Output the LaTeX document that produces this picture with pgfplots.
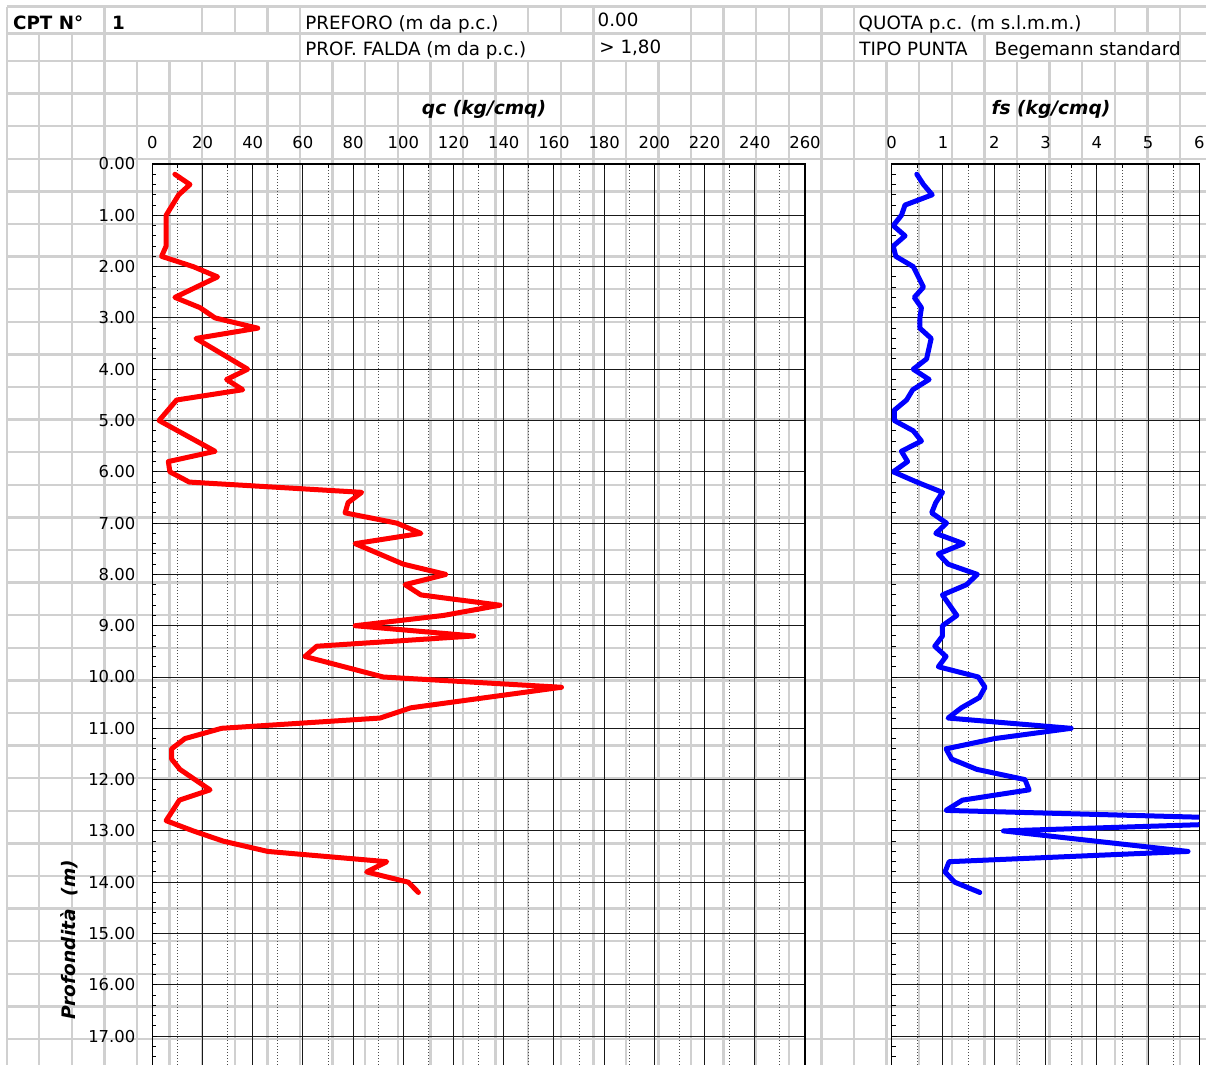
\documentclass[border=0pt]{standalone}
\usepackage{fontspec}
\setmainfont{DejaVu Sans}
\usepackage{pgfplots}
\pgfplotsset{compat=1.18}
\definecolor{xlgrid}{RGB}{208,208,208}
\newcommand\hdr{\fontsize{9.15}{11}\selectfont}
\newcommand\tck{\fontsize{8.2}{9.8}\selectfont}
\newcommand\ttl{\fontsize{9.3}{11}\selectfont\bfseries\itshape}

\pgfplotsset{
 cptaxis/.style={
  scale only axis, anchor=north west,
  height=461.7pt, ymin=0, ymax=18, y dir=reverse,
  axis line style={black, line width=0.7pt},
  ytick={0,1,...,18}, minor y tick num=4,
  ytick pos=left, xtick pos=right, xticklabel pos=right,
  tick align=inside, major tick length=2.5pt, minor tick length=2pt,
  tick style={black, line width=0.5pt},
  xmajorgrids=true, xminorgrids=true, ymajorgrids=true,
  major grid style={black!90, line width=0.5pt},
  minor grid style={black!70, line width=0.5pt, dash pattern=on 0.6pt off 0.9pt},
  tick label style={font=\tck, black},
  xticklabel style={anchor=base, yshift=8pt},
  scaled x ticks=false, scaled y ticks=false,
  /pgf/number format/assume math mode=true,
  clip=true,
 }
}

\pgfplotstableread{
d qc
0.2 9
0.4 15
0.6 10.5
0.8 8
1.0 5.5
1.2 5.5
1.4 5.5
1.6 5.5
1.8 3.7
2.0 16.3
2.2 26
2.6 9
2.8 19
3.0 25
3.2 42
3.4 17.4
4.0 38
4.2 29.6
4.4 36
4.6 9.7
5.0 2.7
5.6 25
5.8 6.4
6.0 7
6.2 14.7
6.4 83.4
6.6 78
6.8 76.8
7.0 97.4
7.2 107
7.4 80.8
7.8 100
8.0 117
8.2 100.7
8.4 107
8.6 138.5
8.8 116
9.0 80.8
9.2 128
9.4 65.5
9.6 60.8
10.0 92
10.2 163
10.6 103
10.8 90.7
11.0 27.6
11.2 13
11.4 7.7
11.6 7.7
11.8 11
12.2 23
12.4 10.8
12.8 5.5
13.0 16.3
13.2 28.3
13.4 46
13.6 93.4
13.8 85.4
14.0 102
14.2 106
}\qctable

\pgfplotstableread{
d fs
0.2 0.49
0.4 0.62
0.6 0.79
0.8 0.26
1.0 0.19
1.2 0.03
1.4 0.26
1.6 0.03
1.8 0.08
2.0 0.42
2.4 0.62
2.6 0.44
2.8 0.58
3.0 0.55
3.2 0.55
3.4 0.77
3.8 0.68
4.0 0.42
4.2 0.73
4.4 0.41
4.6 0.29
4.8 0.05
5.0 0.05
5.2 0.42
5.4 0.58
5.6 0.19
5.8 0.31
6.0 0.03
6.2 0.49
6.4 0.99
6.6 0.86
6.8 0.78
7.0 1.07
7.2 0.86
7.4 1.40
7.6 0.91
7.8 1.10
8.0 1.67
8.2 1.46
8.4 0.99
8.8 1.27
9.0 0.99
9.2 0.99
9.4 0.84
9.6 1.06
9.8 0.91
10.0 1.69
10.2 1.82
10.4 1.71
10.6 1.36
10.8 1.10
11.0 3.50
11.2 2.01
11.4 1.06
11.6 1.17
11.8 1.66
12.0 2.60
12.2 2.68
12.4 1.38
12.6 1.06
12.8 8.5
13.0 2.18
13.4 5.78
13.6 1.12
13.8 1.04
14.0 1.23
14.2 1.72
}\fstable

\begin{document}
\begin{tikzpicture}
% ---- spreadsheet cell grid (background) ----
\begin{scope}[x=0.5pt,y=-0.5pt]
 \begin{scope}[draw=xlgrid, line width=1.2pt]
  \foreach \yy in {6.7,33.5,61} \draw (6.7,\yy) -- (1206,\yy);
  \foreach \j in {1,...,31} \draw (6.7,{61+32.6*\j}) -- (1206,{61+32.6*\j});
  \foreach \k in {0,...,36} \draw ({6.7+32.59*\k},61) -- ({6.7+32.59*\k},1066);
  \foreach \k in {0,3,6,7,8,9,16,17,18,21,22,23,24,25,26,34,35,36}
     \draw ({6.7+32.59*\k},6.7) -- ({6.7+32.59*\k},33.5);
  \foreach \k in {0,1,2,3,9,18,21,22,23,24,25,26,30,36}
     \draw ({6.7+32.59*\k},33.5) -- ({6.7+32.59*\k},61);
 \end{scope}
 % header texts
 \node[anchor=base west, inner sep=0, font=\hdr\bfseries] at (12.7,29.3) {CPT N°};
 \node[anchor=base west, inner sep=0, font=\hdr\bfseries] at (111.7,29.3) {1};
 \node[anchor=base west, inner sep=0, font=\hdr] at (305,29.3) {PREFORO (m da p.c.)};
 \node[anchor=base west, inner sep=0, font=\hdr] at (597.3,26.5) {0.00};
 \node[anchor=base west, inner sep=0, font=\hdr] at (858.3,29.5) {QUOTA p.c. (m s.l.m.m.)};
 \node[anchor=base west, inner sep=0, font=\hdr] at (305,55.3) {PROF. FALDA (m da p.c.)};
 \node[anchor=base west, inner sep=0, font=\hdr] at (599,53.5) {> 1,80};
 \node[anchor=base west, inner sep=0, font=\hdr] at (859,55.8) {TIPO PUNTA};
 \node[anchor=base west, inner sep=0, font=\hdr] at (994.3,55.8) {Begemann standard};
 % axis titles
 \node[anchor=base, inner sep=0, font=\ttl] at (484,115) {qc (kg/cmq)};
 \node[anchor=base, inner sep=0, font=\ttl] at (1051,115) {fs (kg/cmq)};
 \node[rotate=90, inner sep=0, font=\ttl] at (69,939.5) {Profondità\ \ (m)};
\end{scope}

% ---- qc axis ----
\begin{axis}[cptaxis,
  at={(76.15pt,-82pt)}, width=326.35pt,
  xmin=0, xmax=260, xtick={0,20,...,260}, minor x tick num=1,
  yticklabels={0.00,1.00,2.00,3.00,4.00,5.00,6.00,7.00,8.00,9.00,10.00,11.00,12.00,13.00,14.00,15.00,16.00,17.00,{}},
  yticklabel style={xshift=-5pt},
]
 \addplot[red, line width=2.5pt, line join=round, line cap=round] table[x=qc, y=d] {\qctable};
\end{axis}

% ---- fs axis ----
\begin{axis}[cptaxis,
  at={(445.85pt,-82pt)}, width=153.8pt,
  xmin=0, xmax=6, xtick={0,1,...,6}, minor x tick num=1,
  yticklabels={},
]
 \addplot[blue, line width=2.5pt, line join=round, line cap=round] table[x=fs, y=d] {\fstable};
\end{axis}

\pgfresetboundingbox
\path[use as bounding box] (0,0) rectangle (603pt,-532.5pt);
\end{tikzpicture}
\end{document}
